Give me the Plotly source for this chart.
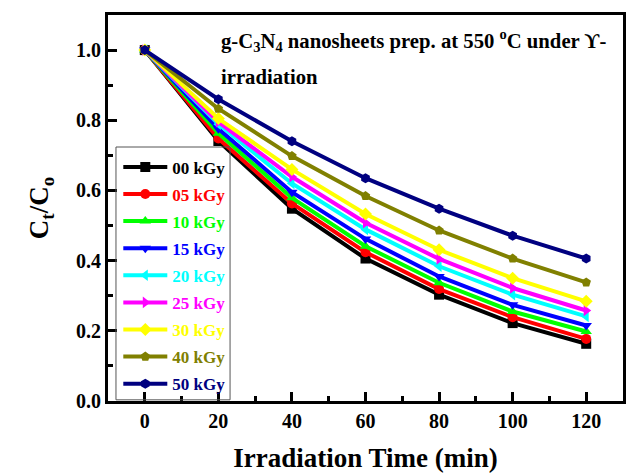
import plotly.graph_objects as go

# Irradiation time (min)
time_min = [0, 20, 40, 60, 80, 100, 120]

# Normalised concentration Ct/C0 for each gamma dose
dose_labels = ["00 kGy", "05 kGy", "10 kGy", "15 kGy", "20 kGy",
               "25 kGy", "30 kGy", "40 kGy", "50 kGy"]
ct_00 = [1.0, 0.741, 0.548, 0.406, 0.303, 0.222, 0.163]
ct_05 = [1.0, 0.748, 0.563, 0.424, 0.319, 0.239, 0.177]
ct_10 = [1.0, 0.763, 0.579, 0.441, 0.337, 0.255, 0.198]
ct_15 = [1.0, 0.776, 0.595, 0.462, 0.355, 0.274, 0.215]
ct_20 = [1.0, 0.789, 0.620, 0.489, 0.384, 0.303, 0.241]
ct_25 = [1.0, 0.795, 0.639, 0.508, 0.405, 0.322, 0.258]
ct_30 = [1.0, 0.805, 0.660, 0.533, 0.431, 0.350, 0.284]
ct_40 = [1.0, 0.833, 0.698, 0.584, 0.486, 0.406, 0.338]
ct_50 = [1.0, 0.860, 0.740, 0.635, 0.548, 0.471, 0.406]
series = [ct_00, ct_05, ct_10, ct_15, ct_20, ct_25, ct_30, ct_40, ct_50]

colors = ["#000000", "#FF0000", "#00FF00", "#0000FF", "#00FFFF",
          "#FF00FF", "#FFFF00", "#808000", "#000080"]
symbols = ["square", "circle", "triangle-up", "triangle-down", "triangle-left",
           "triangle-right", "diamond", "pentagon", "hexagon"]

FONT = "Liberation Serif, Times New Roman, serif"

fig = go.Figure()
for i, (lab, ys) in enumerate(zip(dose_labels, series)):
    fig.add_trace(go.Scatter(
        x=time_min, y=ys, mode="lines+markers",
        name=f"<span style='color:{colors[i]}'>{lab}</span>",
        legendgroup=lab,
        line=dict(color=colors[i], width=4),
        marker=dict(symbol=symbols[i], size=10, color=colors[i]),
    ))

axis_common = dict(
    showline=True, linecolor="black", linewidth=3, mirror=True,
    ticks="inside", ticklen=9, tickwidth=3, tickcolor="black",
    showgrid=False, zeroline=False,
    tickfont=dict(family=FONT, size=20, color="black", weight="bold"),
)

fig.update_xaxes(
    range=[-10, 130], tickvals=[0, 20, 40, 60, 80, 100, 120],
    minor=dict(ticks="inside", ticklen=5, tickwidth=3, tickcolor="black", dtick=10, tick0=0),
    title=dict(text="Irradiation Time (min)", standoff=18,
               font=dict(family=FONT, size=27, color="black", weight="bold")),
    **axis_common,
)
fig.update_yaxes(
    range=[0, 1.1], tickvals=[0, 0.2, 0.4, 0.6, 0.8, 1.0], tickformat=".1f",
    minor=dict(ticks="inside", ticklen=5, tickwidth=3, tickcolor="black", dtick=0.1, tick0=0),
    title=dict(text="C<sub>t</sub>/C<sub>o</sub>", standoff=20,
               font=dict(family=FONT, size=27, color="black", weight="bold")),
    **axis_common,
)

# Legend frame
fig.add_shape(type="rect", xref="paper", yref="paper",
              x0=0.0155, x1=0.237, y0=0.003, y1=0.658,
              line=dict(color="#555555", width=1), layer="above")

fig.add_annotation(
    text="g-C<sub>3</sub>N<sub>4</sub> nanosheets prep. at 550 <sup>o</sup>C under ϒ-",
    xref="paper", yref="paper", x=0.215, y=0.935, xanchor="left", yanchor="middle",
    showarrow=False, font=dict(family=FONT, size=20.7, color="black", weight="bold"),
)
fig.add_annotation(
    text="irradiation",
    xref="paper", yref="paper", x=0.215, y=0.84, xanchor="left", yanchor="middle",
    showarrow=False, font=dict(family=FONT, size=20.7, color="black", weight="bold"),
)

fig.update_layout(
    width=628, height=473,
    margin=dict(l=108, r=2, t=15, b=72),
    paper_bgcolor="white", plot_bgcolor="white",
    showlegend=True,
    legend=dict(
        x=0.02, y=0.652, xanchor="left", yanchor="top",
        bgcolor="rgba(0,0,0,0)", borderwidth=0,
        tracegroupgap=2, itemwidth=44,
        font=dict(family=FONT, size=17, color="black", weight="bold"),
    ),
)

fig.write_html("out.html")
